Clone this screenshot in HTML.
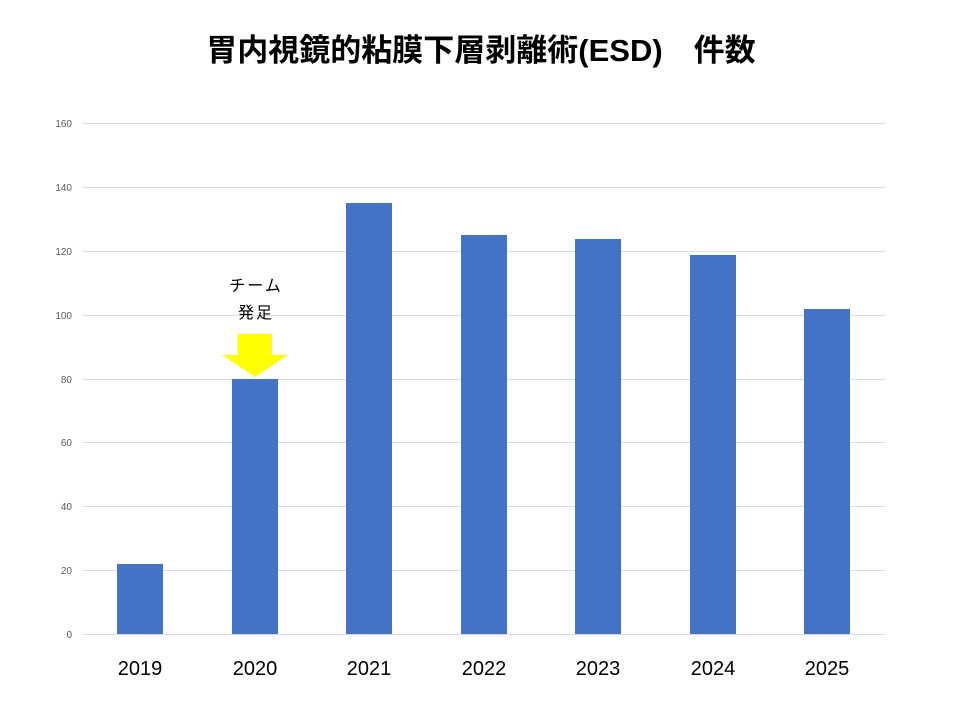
<!DOCTYPE html>
<html><head><meta charset="utf-8"><style>
body{margin:0;background:#fff;}
svg{display:block;}
</style></head><body>
<svg width="960" height="720" xmlns="http://www.w3.org/2000/svg" font-family="'Liberation Sans','Noto Sans CJK JP',sans-serif">
<rect width="960" height="720" fill="#fff"/>
<text x="481" y="61" text-anchor="middle" font-size="31" font-weight="bold" fill="#000">胃内視鏡的粘膜下層剥離術(ESD)　件数</text>
<g stroke="#d9d9d9" stroke-width="1">
<line x1="83" x2="885" y1="123.5" y2="123.5"/>
<line x1="83" x2="885" y1="187.5" y2="187.5"/>
<line x1="83" x2="885" y1="251.5" y2="251.5"/>
<line x1="83" x2="885" y1="315.5" y2="315.5"/>
<line x1="83" x2="885" y1="379.5" y2="379.5"/>
<line x1="83" x2="885" y1="442.5" y2="442.5"/>
<line x1="83" x2="885" y1="506.5" y2="506.5"/>
<line x1="83" x2="885" y1="570.5" y2="570.5"/>
<line x1="83" x2="885" y1="634.5" y2="634.5"/>
</g>
<g font-size="10" fill="#595959" text-anchor="end">
<text x="72" y="127">160</text><text x="72" y="191">140</text><text x="72" y="255">120</text>
<text x="72" y="319">100</text><text x="72" y="383">80</text><text x="72" y="446">60</text>
<text x="72" y="510">40</text><text x="72" y="574">20</text><text x="72" y="638">0</text>
</g>
<g fill="#4472c4">
<rect x="117" y="564" width="46" height="70"/>
<rect x="232" y="379" width="46" height="255"/>
<rect x="346" y="203" width="46" height="431"/>
<rect x="461" y="235" width="46" height="399"/>
<rect x="575" y="239" width="46" height="395"/>
<rect x="690" y="255" width="46" height="379"/>
<rect x="804" y="309" width="46" height="325"/>
</g>
<g font-size="20" fill="#000" text-anchor="middle">
<text x="140" y="675">2019</text><text x="255" y="675">2020</text><text x="369" y="675">2021</text>
<text x="484" y="675">2022</text><text x="598" y="675">2023</text><text x="713" y="675">2024</text>
<text x="827" y="675">2025</text>
</g>
<g font-size="16" fill="#000" text-anchor="middle" letter-spacing="2">
<text x="256" y="291">チーム</text>
<text x="256" y="318">発足</text>
</g>
<polygon points="238,334 272,334 272,355 288,355 255,377 222,355 238,355" fill="#ffff00"/>
</svg>
</body></html>
